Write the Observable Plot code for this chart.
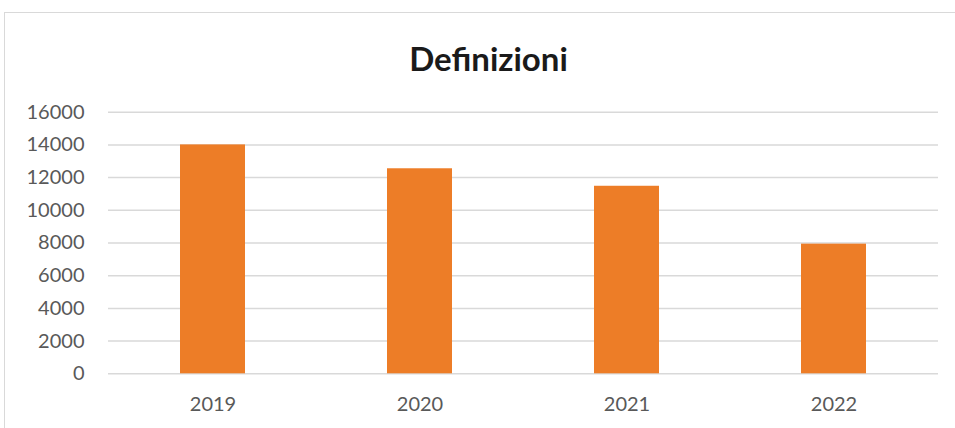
<!DOCTYPE html>
<html>
<head>
<meta charset="utf-8">
<script src="https://cdn.jsdelivr.net/npm/d3@7"></script>
<script src="https://cdn.jsdelivr.net/npm/@observablehq/plot@0.6"></script>
<style>
  html, body { margin: 0; padding: 0; background: #fff; overflow: hidden; }
  body { width: 955px; height: 428px; position: relative; font-family: Lato, "Open Sans", sans-serif; }
  #frame { position: absolute; left: 4px; top: 12px; width: 1000px; height: 500px; border: 1.5px solid #d9d9d9; box-sizing: border-box; }
  #title { position: relative; height: 90px; text-align: center; font-size: 33px; font-weight: bold; color: #1a1a1a; padding-top: 38px; padding-left: 22px; box-sizing: border-box; line-height: 40px; }
  #chart { position: relative; }
</style>
</head>
<body>
<div id="frame"></div>
<div id="title">Definizioni</div>
<div id="chart"></div>
<script>
const years = ["2019", "2020", "2021", "2022"];
const values = [14000, 12540, 11470, 7930];
const yTicks = [0, 2000, 4000, 6000, 8000, 10000, 12000, 14000, 16000];

const data = years.map((y, i) => ({year: y, value: values[i]}));

const chart = Plot.plot({
  width: 955,
  height: 338,
  marginTop: 21.7,
  marginBottom: 54.7,
  marginLeft: 108,
  marginRight: 17,
  style: {fontFamily: "Lato, 'Open Sans', sans-serif", fontSize: "20px", color: "#595959", background: "transparent"},
  x: {domain: years, paddingInner: 0.687, paddingOuter: 0.3435, label: null},
  y: {domain: [0, 16000], label: null},
  marks: [
    Plot.gridY(yTicks, {stroke: "#d9d9d9", strokeOpacity: 1, strokeWidth: 1.5}),
    Plot.barY(data, {x: "year", y: "value", fill: "#ed7d27"}),
    Plot.axisY(yTicks, {tickSize: 0, tickPadding: 24, label: null, fill: "#595959", fontSize: 20, tickFormat: d => String(d)}),
    Plot.axisX({tickSize: 0, tickPadding: 23, label: null, fill: "#595959", fontSize: 20})
  ]
});
document.getElementById("chart").appendChild(chart);
</script>
</body>
</html>
